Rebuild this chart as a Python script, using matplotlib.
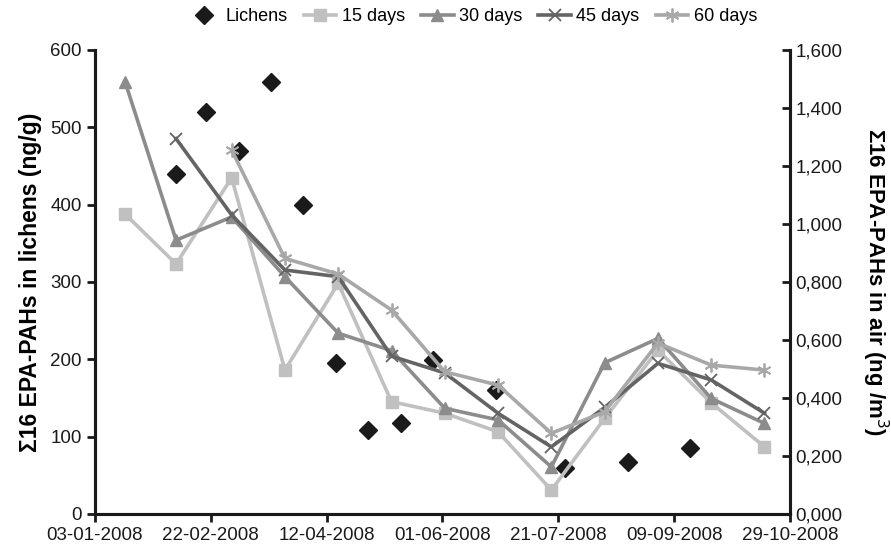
import numpy as np
import matplotlib
matplotlib.use("Agg")
import matplotlib.pyplot as plt
import matplotlib.dates as mdates
from matplotlib.ticker import FuncFormatter, MultipleLocator
import pandas as pd

plt.rcParams['font.family'] = ['Liberation Sans', 'DejaVu Sans']

# lichen samples (left axis, ng/g)
lichen_dates = ['2008-02-07', '2008-02-20', '2008-03-05', '2008-03-19', '2008-04-02',
                '2008-04-16', '2008-04-30', '2008-05-14', '2008-05-28', '2008-06-24',
                '2008-07-24', '2008-08-20', '2008-09-16']
lichens = [439, 520, 469, 558, 400, 195, 109, 117, 199, 160, 59, 67, 85]

# air samples (right axis, ng/m3)
air_dates = ['2008-01-16', '2008-02-07', '2008-03-02', '2008-03-25', '2008-04-17',
             '2008-05-10', '2008-06-02', '2008-06-25', '2008-07-18', '2008-08-10',
             '2008-09-02', '2008-09-25', '2008-10-18']
days15 = [1.034, 0.862, 1.159, 0.496, 0.795, 0.387, 0.347, 0.283, 0.082, 0.329, 0.565, 0.383, 0.231]
days30 = [1.490, 0.944, 1.024, 0.818, 0.623, 0.563, 0.364, 0.324, 0.162, 0.521, 0.605, 0.398, 0.312]
days45 = [None, 1.294, 1.031, 0.841, 0.818, 0.544, 0.486, 0.347, 0.231, 0.367, 0.519, 0.462, 0.347]
days60 = [None, None, 1.255, 0.881, 0.827, 0.703, 0.490, 0.444, 0.278, 0.352, 0.589, 0.513, 0.496]

tick_dates = ['2008-01-03', '2008-02-22', '2008-04-12', '2008-06-01',
              '2008-07-21', '2008-09-09', '2008-10-29']

ld = pd.to_datetime(lichen_dates)
ad = pd.to_datetime(air_dates)

fig = plt.figure(figsize=(8.91, 5.49), dpi=100)
ax = fig.add_axes([0.1066, 0.064, 0.78, 0.845])
ax2 = ax.twinx()

h0, = ax.plot(ld, lichens, linestyle='none', marker='D', markersize=9,
              color='#1a1a1a', label='Lichens')

def series(vals):
    return np.array([np.nan if v is None else v for v in vals], dtype=float)

h1, = ax2.plot(ad, series(days15), color='#c0c0c0', lw=2.6, marker='s', markersize=9, label='15 days')
h2, = ax2.plot(ad, series(days30), color='#8c8c8c', lw=2.6, marker='^', markersize=9, label='30 days')
h3, = ax2.plot(ad, series(days45), color='#646464', lw=2.6, marker='x', markersize=9,
               markeredgewidth=1.3, label='45 days')
h4, = ax2.plot(ad, series(days60), color='#a8a8a8', lw=2.6, marker=(6, 2, 0), markersize=10,
               markeredgewidth=1.3, label='60 days')

ax.set_xlim(pd.Timestamp(tick_dates[0]), pd.Timestamp(tick_dates[-1]))
ax.set_xticks(pd.to_datetime(tick_dates))
ax.xaxis.set_major_formatter(mdates.DateFormatter('%d-%m-%Y'))

ax.set_ylim(0, 600)
ax.yaxis.set_major_locator(MultipleLocator(100))
ax2.set_ylim(0, 1.6)
ax2.yaxis.set_major_locator(MultipleLocator(0.2))
ax2.yaxis.set_major_formatter(FuncFormatter(lambda v, p: f"{v:.3f}".replace('.', ',')))

for a in (ax, ax2):
    a.spines['top'].set_visible(False)
    for s in ('left', 'right', 'bottom'):
        a.spines[s].set_linewidth(2.2)
        a.spines[s].set_color('#1a1a1a')

ax.tick_params(axis='both', labelsize=13.5, width=2, length=6, colors='#1a1a1a', direction='out')
ax2.tick_params(axis='y', labelsize=13.5, width=2, length=6, colors='#1a1a1a', direction='in', pad=4)

ax.set_ylabel('Σ16 EPA-PAHs in lichens (ng/g)', fontsize=16.5, fontweight='bold', labelpad=6)
ax2.set_ylabel('Σ16 EPA-PAHs in air (ng /m$^3$)', fontsize=16, fontweight='bold',
               rotation=270, labelpad=34)

fig.legend(handles=[h0, h1, h2, h3, h4], loc='center', bbox_to_anchor=(0.53, 0.97),
           ncol=5, frameon=False, fontsize=13, handlelength=1.8, columnspacing=0.9,
           handletextpad=0.3)

fig.savefig('out.png', dpi=100)
